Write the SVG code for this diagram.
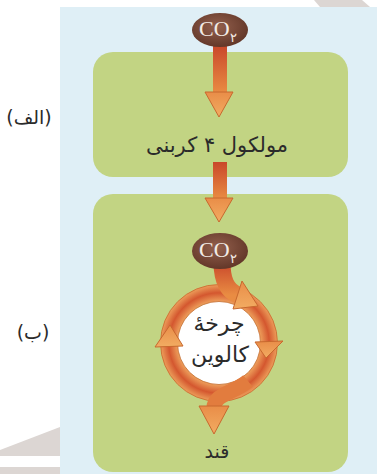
<svg xmlns="http://www.w3.org/2000/svg" width="377" height="474" viewBox="0 0 377 474">
<style>
.fa{font-family:"DejaVu Sans",sans-serif;fill:#2b2b2b;text-anchor:middle}
.co{font-family:"Liberation Serif",serif;fill:#f3ece6}
.head{fill:url(#headGrad);stroke:#c8682e;stroke-width:1;stroke-linejoin:round}
.box{fill:#c2d483}
</style>
<defs>
<linearGradient id="shaftGrad" x1="0" y1="0" x2="0" y2="1">
<stop offset="0" stop-color="#c9472a"/>
<stop offset="1" stop-color="#e98c43"/>
</linearGradient>
<linearGradient id="headGrad" x1="0" y1="0" x2="0" y2="1">
<stop offset="0" stop-color="#e98d48"/>
<stop offset="1" stop-color="#f2ac62"/>
</linearGradient>
<radialGradient id="coGrad" cx="0.45" cy="0.4" r="0.65">
<stop offset="0" stop-color="#93604d"/>
<stop offset="1" stop-color="#5f3426"/>
</radialGradient>
<radialGradient id="ringGrad" gradientUnits="userSpaceOnUse" cx="219" cy="343" r="59">
<stop offset="0.70" stop-color="#eea05c"/>
<stop offset="0.85" stop-color="#d4572f"/>
<stop offset="1" stop-color="#eea25d"/>
</radialGradient>
</defs>
<g id="background">
<polygon points="314,0 362,0 370,7 320,7" fill="#dcd6d3"/>
<polygon points="0,450 60,427 60,456 0,456" fill="#dcd6d3"/>
<rect x="0" y="467" width="60" height="7" fill="#dcd6d3"/>
<rect x="60" y="7" width="317" height="467" fill="#dfeff6"/>
</g>
<g id="label-alef"><text class="fa" x="29" y="124" font-size="19" direction="rtl">(الف)</text></g>
<g id="label-be"><text class="fa" x="33" y="339" font-size="19" direction="rtl">(ب)</text></g>
<g id="box-a"><rect class="box" x="93" y="52" width="255" height="125" rx="20"/>
<text class="fa" x="217" y="152" font-size="21" direction="rtl">مولکول ۴ کربنی</text></g>
<g id="box-b"><rect class="box" x="93" y="194" width="255" height="278" rx="20"/></g>
<g id="connectors">
<rect x="213" y="45" width="14" height="48" fill="url(#shaftGrad)"/>
<polygon class="head" points="205,92 233,92 219,117"/>
<rect x="213" y="162" width="14" height="37" fill="url(#shaftGrad)"/>
<polygon class="head" points="205,198 233,198 219,222"/>
</g>
<g id="calvin-cycle">
<circle cx="219" cy="343" r="50" fill="none" stroke="url(#ringGrad)" stroke-width="17"/>
<circle cx="219" cy="343" r="58.5" fill="none" stroke="#c8682e" stroke-width="0.8"/>
<circle cx="219" cy="343" r="41.5" fill="#ffffff" stroke="#c8682e" stroke-width="0.8"/>
<path d="M222 262 C222 279 226 290 238 295" fill="none" stroke="url(#shaftGrad)" stroke-width="17"/>
<polygon class="head" points="242,281 233,309 258,306"/>
<polygon class="head" points="283,341 255,342 266,358"/>
<polygon class="head" points="155,347 183,346 170,325"/>
<path d="M248 381 C232 394 214 394 214 408" fill="none" stroke="#e27c3e" stroke-width="15"/>
<polygon class="head" points="199,406 229,406 214,434"/>
<text class="fa" x="219" y="331" font-size="22" direction="rtl">چرخهٔ</text>
<text class="fa" x="220" y="362" font-size="22" direction="rtl">کالوین</text>
</g>
<g id="co2-top"><ellipse cx="220" cy="30" rx="28" ry="17" fill="url(#coGrad)"/>
<text class="co" x="199" y="36" font-size="22">CO</text><text class="co" x="230" y="42" font-size="13" font-family="DejaVu Sans">۲</text></g>
<g id="co2-cycle"><ellipse cx="220" cy="251" rx="28" ry="18" fill="url(#coGrad)"/>
<text class="co" x="199" y="257" font-size="22">CO</text><text class="co" x="230" y="263" font-size="13" font-family="DejaVu Sans">۲</text></g>
<g id="sugar"><text class="fa" x="217" y="458" font-size="19" direction="rtl">قند</text></g>
</svg>
